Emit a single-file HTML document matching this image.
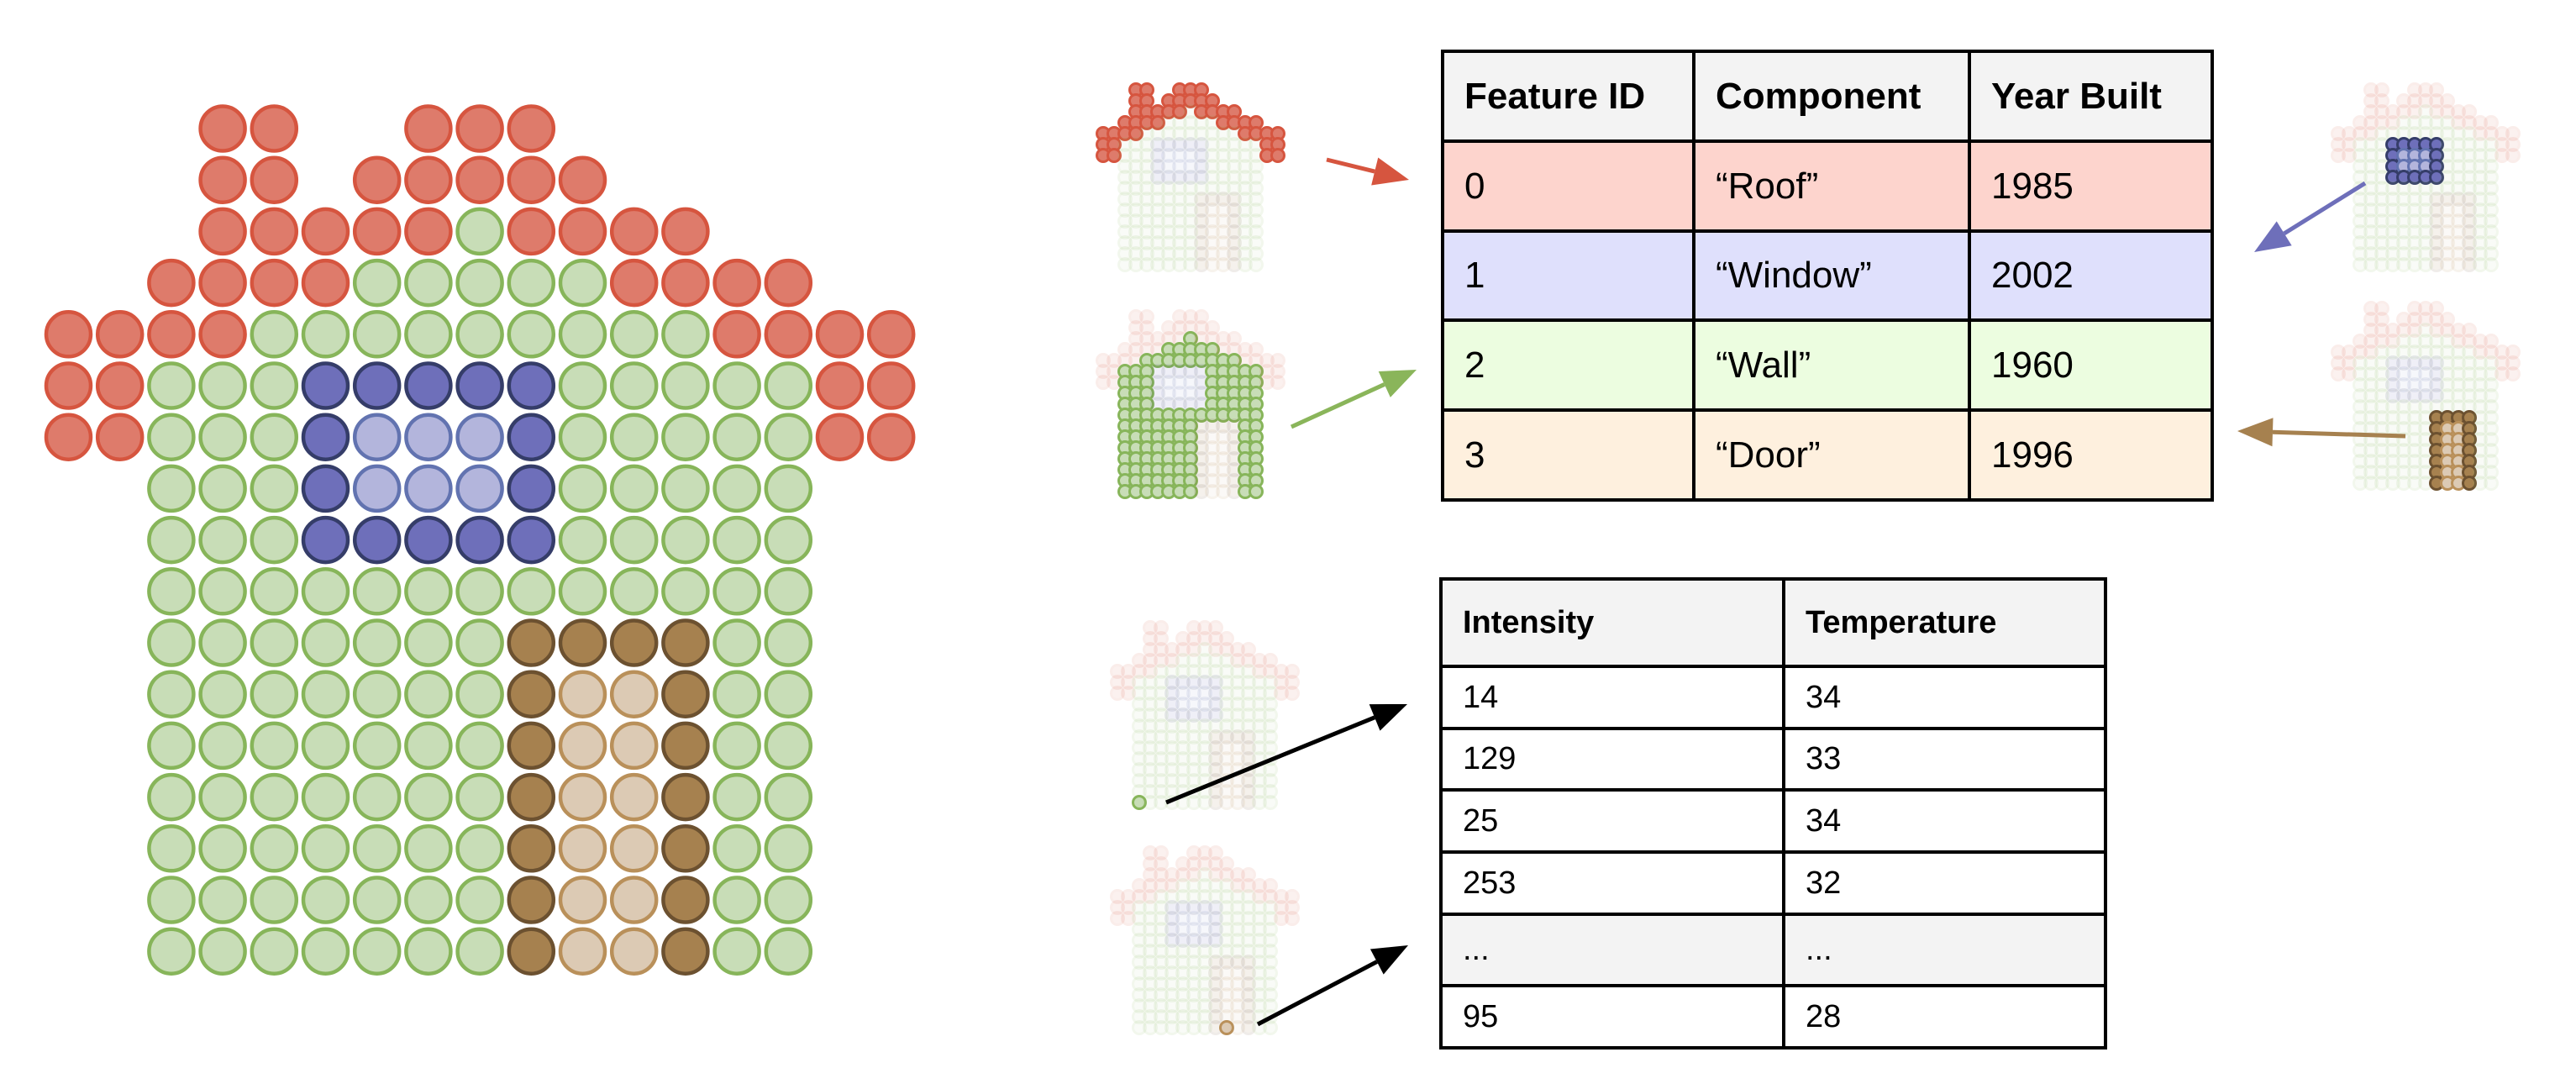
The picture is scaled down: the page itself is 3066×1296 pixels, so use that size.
<!DOCTYPE html>
<html><head><meta charset="utf-8"><style>
html,body{margin:0;padding:0;background:#fff;}
body{width:3066px;height:1296px;position:relative;overflow:hidden;font-family:"Liberation Sans",sans-serif;}
svg{position:absolute;left:0;top:0;}
table{position:absolute;border-collapse:collapse;font-family:"Liberation Sans",sans-serif;color:#000;}
td,th{border:4px solid #000;text-align:left;padding:0 0 0 24px;box-sizing:border-box;}
#t1 th,#t1 td{font-size:44px;}
#t2 th,#t2 td{font-size:38px;}
th{background:#f3f3f3;font-weight:bold;}
</style></head><body>
<svg id="art" width="3066" height="1296" viewBox="0 0 3066 1296"></svg>

<table id="t1" style="left:1715px;top:59px;width:920px;">
<tr style="height:107px"><th style="width:299px">Feature ID</th><th style="width:328px">Component</th><th>Year Built</th></tr>
<tr style="height:107px;background:#fdd4cd"><td>0</td><td>“Roof”</td><td>1985</td></tr>
<tr style="height:106px;background:#dfe0fc"><td>1</td><td>“Window”</td><td>2002</td></tr>
<tr style="height:107px;background:#ecfde0"><td>2</td><td>“Wall”</td><td>1960</td></tr>
<tr style="height:107px;background:#fef0de"><td>3</td><td>“Door”</td><td>1996</td></tr>
</table>

<table id="t2" style="left:1713px;top:687px;width:795px;">
<tr style="height:104px"><th style="width:408px">Intensity</th><th>Temperature</th></tr>
<tr style="height:74px"><td>14</td><td>34</td></tr>
<tr style="height:73px"><td>129</td><td>33</td></tr>
<tr style="height:74px"><td>25</td><td>34</td></tr>
<tr style="height:74px"><td>253</td><td>32</td></tr>
<tr style="height:85px;background:#f3f3f3"><td>...</td><td>...</td></tr>
<tr style="height:74px"><td>95</td><td>28</td></tr>
</table>

<script>
const houseRows = [
"...RR..RRR.......",
"...RR.RRRRR......",
"...RRRRRGRRRR....",
"..RRRRGGGGGRRRR..",
"RRRRGGGGGGGGGRRRR",
"RRGGGBBBBBGGGGGRR",
"RRGGGBbbbBGGGGGRR",
"..GGGBbbbBGGGGG..",
"..GGGBBBBBGGGGG..",
"..GGGGGGGGGGGGG..",
"..GGGGGGGDDDDGG..",
"..GGGGGGGDddDGG..",
"..GGGGGGGDddDGG..",
"..GGGGGGGDddDGG..",
"..GGGGGGGDddDGG..",
"..GGGGGGGDddDGG..",
"..GGGGGGGDddDGG.."
];
const colors = {
 R:["#de7b6b","#d6553f"], G:["#c8ddb7","#87b55a"], B:["#6e6fba","#353d69"],
 b:["#b3b5dc","#6273b0"], D:["#a6814f","#6c5130"], d:["#dccab4","#b9905a"]
};
const NS="http://www.w3.org/2000/svg";
const svg=document.getElementById('art');
function mk(tag,attrs,parent){const e=document.createElementNS(NS,tag);for(const k in attrs)e.setAttribute(k,attrs[k]);(parent||svg).appendChild(e);return e;}

function house(x0,y0,step,r,sw,name,hl){
  const g=mk('g',{});
  
  
  houseRows.forEach((row,ri)=>{
    [...row].forEach((ch,ci)=>{
      if(ch==='.')return;
      let op=1;
      if(hl){
        let on = typeof hl==='string' ? hl.includes(ch) : (hl[0]===ri&&hl[1]===ci);
        op = on?1:0.1;
      }
      const c=mk('circle',{cx:x0+ci*step,cy:y0+ri*step,r:r,fill:colors[ch][0],stroke:colors[ch][1],'stroke-width':sw,opacity:op},g);
      
      
    });
  });
}
house(81.5,153,61.2,26.5,4.5,'main-house',null);
house(1313,107,13,7.5,3,'roof-house',"R");
house(1313,377,13,7.5,3,'wall-house',"G");
house(2783,107,13,7.5,3,'window-house',"Bb");
house(2783,367,13,7.5,3,'door-house',"Dd");
house(1330,747,13,7.5,3,'wall-point-house',[16,2]);
house(1330,1015,13,7.5,3,'door-point-house',[16,10]);

function arrow(x1,y1,x2,y2,col,name){
  const g=mk('g',{});
  
  
  const dx=x2-x1,dy=y2-y1,L=Math.hypot(dx,dy),ux=dx/L,uy=dy/L;
  const hl=42,hw=17;
  const bx=x2-ux*hl,by=y2-uy*hl;
  mk('line',{x1:x1,y1:y1,x2:bx,y2:by,stroke:col,'stroke-width':5},g);
  mk('polygon',{points:`${x2},${y2} ${bx-uy*hw},${by+ux*hw} ${bx+uy*hw},${by-ux*hw}`,fill:col},g);
}
arrow(1579,190,1677,214,'#d6553f','roof-arrow');
arrow(1537,508,1686,440,'#8ab55a','wall-arrow');
arrow(2815,218,2683,300,'#6e6fba','window-arrow');
arrow(2863,519,2663,513,'#a6814f','door-arrow');
arrow(1388,955,1675,838,'#000','point-arrow-1');
arrow(1497,1219,1676,1125,'#000','point-arrow-2');
</script>
</body></html>
